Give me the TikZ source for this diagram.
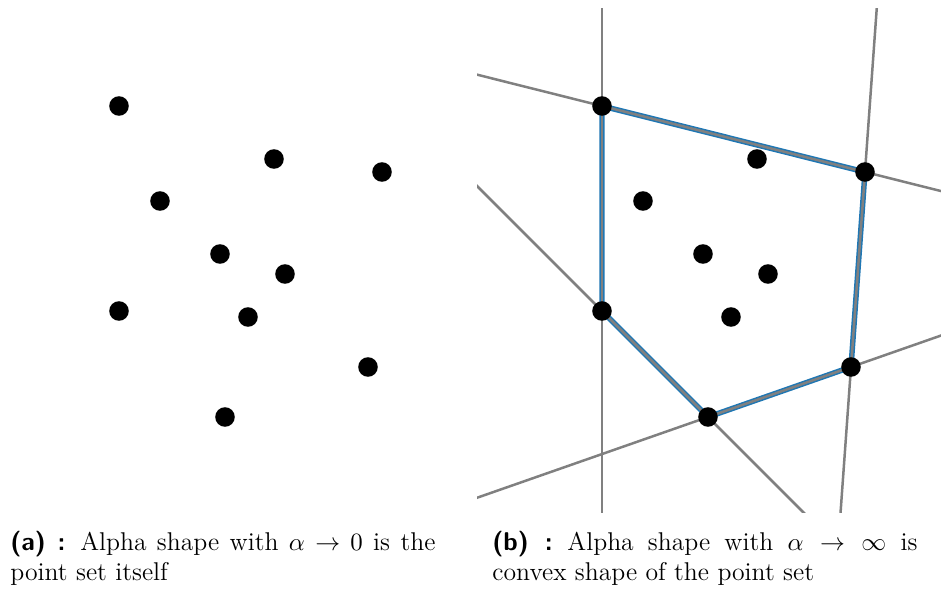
\documentclass[tikz,border=0pt]{standalone}
\usepackage{amsmath}
\usepackage{xcolor}
\usetikzlibrary{calc,positioning,backgrounds}
\definecolor{HullBlue}{RGB}{31,119,180}
\definecolor{LineGray}{RGB}{128,128,128}
\tikzset{
  dot/.style={circle,fill=black,inner sep=0pt,minimum size=8.6pt},
  hull/.style={draw=HullBlue,line width=2.4pt,line join=round},
  ext/.style={draw=LineGray,line width=1.1pt},
  capt/.style={anchor=base west,inner sep=0pt,text width=187pt,
               align=justify,font=\fontsize{11.3}{13.5}\selectfont},
}
\newcommand{\sublabel}[1]{{\sffamily\bfseries (#1) :}\hspace{6.5pt}}

\begin{document}
\begin{tikzpicture}[x=0.44pt,y=-0.44pt]
    \useasboundingbox (0,0) rectangle (941,592);

    % point sets
    \foreach \x/\y [count=\i] in {602/106,757/159,865/172,643/201,703/254,
                                  768/274,602/311,731/317,851/367,708/417}{
      \node[dot] (l\i) at (\x-483,\y) {};
      \node[dot] (r\i) at (\x,\y) {};
    }

    % convex hull and its supporting lines
    \begin{pgfonlayer}{background}
      \draw[hull] (r1.center) -- (r3.center) -- (r9.center) -- (r10.center)
                  -- (r7.center) -- cycle;
      \begin{scope}
        \clip (477,8) rectangle (941,512);
        \foreach \a/\b in {1/3,3/9,9/10,10/7,7/1}{
          \draw[ext] ($(r\a.center)!-10!(r\b.center)$) -- ($(r\a.center)!10!(r\b.center)$);
        }
      \end{scope}
    \end{pgfonlayer}

    \node[capt] (capa) at (10,550)
      {\sublabel{a}Alpha shape with $\alpha\to 0$ is the\linebreak point set itself};
    \node[capt] (capb) at (492,550)
      {\sublabel{b}Alpha shape with $\alpha\to\infty$ is\linebreak convex shape of the point set};
\end{tikzpicture}
\end{document}
